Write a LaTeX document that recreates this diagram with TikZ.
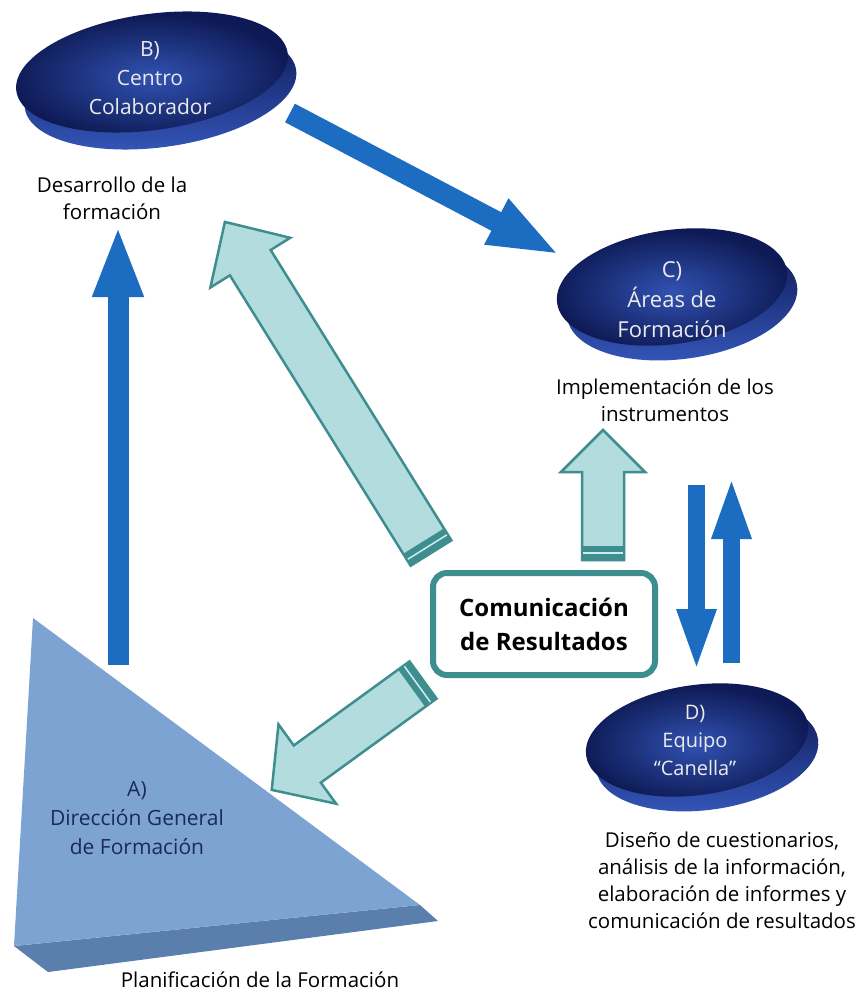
\documentclass[tikz,border=0pt]{standalone}
\usepackage{fontspec}
\setmainfont{Open Sans}
\usepackage{tikz}
\usetikzlibrary{positioning, arrows.meta, calc, shapes.geometric}
\definecolor{navy}{HTML}{0E1A55}
\definecolor{diskmid}{HTML}{3152B2}
\definecolor{rimblue}{HTML}{3558BC}
\definecolor{arrowblue}{HTML}{1C6DC1}
\definecolor{tealline}{HTML}{3E8E90}
\definecolor{icefill}{HTML}{B3DCDF}
\definecolor{iceline}{HTML}{CDEEF0}
\definecolor{faceblue}{HTML}{7DA3D2}
\definecolor{slabblue}{HTML}{5B7FAD}
\definecolor{tritext}{HTML}{1B2A5A}

% hollow arrow: tail, angle, length, half width, head half width, head length
\newcommand{\hollowarrow}[6]{%
  \begin{scope}[shift={#1}, rotate=#2]
    \filldraw[fill=icefill, draw=tealline, line width=2.5pt, line join=miter]
      (0,-#4) -- ({#3-#6},-#4) -- ({#3-#6},-#5) -- (#3,0) -- ({#3-#6},#5) -- ({#3-#6},#4) -- (0,#4) -- cycle;
    \fill[tealline] (0,-#4) rectangle (14,#4);
    \draw[iceline, line width=1.5pt] (7,-#4+1) -- (7,#4-1);
  \end{scope}}

\begin{document}
\begin{tikzpicture}[x=1pt, y=-1pt,
    disk/.style={inner color=diskmid, outer color=navy},
    rim/.style={top color=navy, bottom color=rimblue},
    disktext/.style={text=white!92!black, align=center, font=\fontsize{21}{29}\selectfont},
    caption/.style={align=center, font=\fontsize{20.5}{27}\selectfont},
    bigarrow/.style={draw=arrowblue, line width=21pt, -{Triangle[width=46pt,length=72pt]}},
    smallarrow/.style={draw=arrowblue, line width=17pt, -{Triangle[width=35pt,length=64pt]}},
    combox/.style={draw=tealline, line width=6pt, rounded corners=14pt, fill=white,
      minimum width=222pt, minimum height=102pt, align=center,
      font=\bfseries\fontsize{24}{34}\selectfont},
  ]
  \fill[white] (0,0) rectangle (866,1003);
  \useasboundingbox (0,0) rectangle (866,1003);

  % disk centres and arrow ends
  \coordinate (Bc) at (152,72);
  \coordinate (Cc) at (672,287);
  \coordinate (Dc) at (697,740);
  \coordinate (arrA) at (118,665);
  \coordinate (arrB) at (118,225);
  \coordinate (outB) at (290,113);
  \coordinate (inC) at (560,255);
  \coordinate (outC) at (696.5,485);
  \coordinate (inD) at (696.5,673);
  \coordinate (outD) at (731.5,663);
  \coordinate (backC) at (731.5,475);
  \coordinate (t1) at (431,553);
  \coordinate (t2) at (603,560);
  \coordinate (t3) at (423,680);

  % triangle A
  \fill[slabblue] (14,946) -- (420,905) -- (438,921) -- (48,972) -- cycle;
  \fill[faceblue] (33,618) -- (420,905) -- (14,946) -- cycle;

  % blue arrows
  \draw[bigarrow] (arrA) -- (arrB);
  \draw[bigarrow] (outB) -- (inC);
  \draw[smallarrow] (outC) -- (inD);
  \draw[smallarrow] (outD) -- (backC);

  % disks
  \shade[rim, rotate=8] ($(Bc)+(6,18)$) ellipse [x radius=137, y radius=58];
  \shade[disk, rotate=8] (Bc) ellipse [x radius=137, y radius=58];
  \shade[rim, rotate=8] ($(Cc)+(8,16)$) ellipse [x radius=116, y radius=57];
  \shade[disk, rotate=8] (Cc) ellipse [x radius=116, y radius=57];
  \shade[rim, rotate=8] ($(Dc)+(8,16)$) ellipse [x radius=112, y radius=55];
  \shade[disk, rotate=8] (Dc) ellipse [x radius=112, y radius=55];

  % hollow arrows
  \hollowarrow{(t1)}{121.9}{390}{24}{47}{48}
  \hollowarrow{(t2)}{90}{130}{21}{42}{42}
  \hollowarrow{(t3)}{216}{187}{23}{49}{44}

  \node[combox] (com) at (544,624) {Comunicación\\de Resultados};

  \node[disktext] (B) at (150,78) {B)\\Centro\\Colaborador};
  \node[disktext, font=\fontsize{22}{30}\selectfont] (C) at (672,300) {C)\\Áreas de\\Formación};
  \node[disktext, font=\fontsize{20}{28}\selectfont] (D) at (695,740) {D)\\Equipo\\“Canella”};
  \node[disktext, text=tritext] (A) at (137,818) {A)\\Dirección General\\de Formación};

  \node[caption] (descB) at (112,198) {Desarrollo de la\\formación};
  \node[caption] (descC) at (665,400) {Implementación de los\\instrumentos};
  \node[caption] (descD) at (722,880) {Diseño de cuestionarios,\\análisis de la información,\\elaboración de informes y\\comunicación de resultados};
  \node[caption] (descA) at (260,980) {Planificación de la Formación};
\end{tikzpicture}
\end{document}
